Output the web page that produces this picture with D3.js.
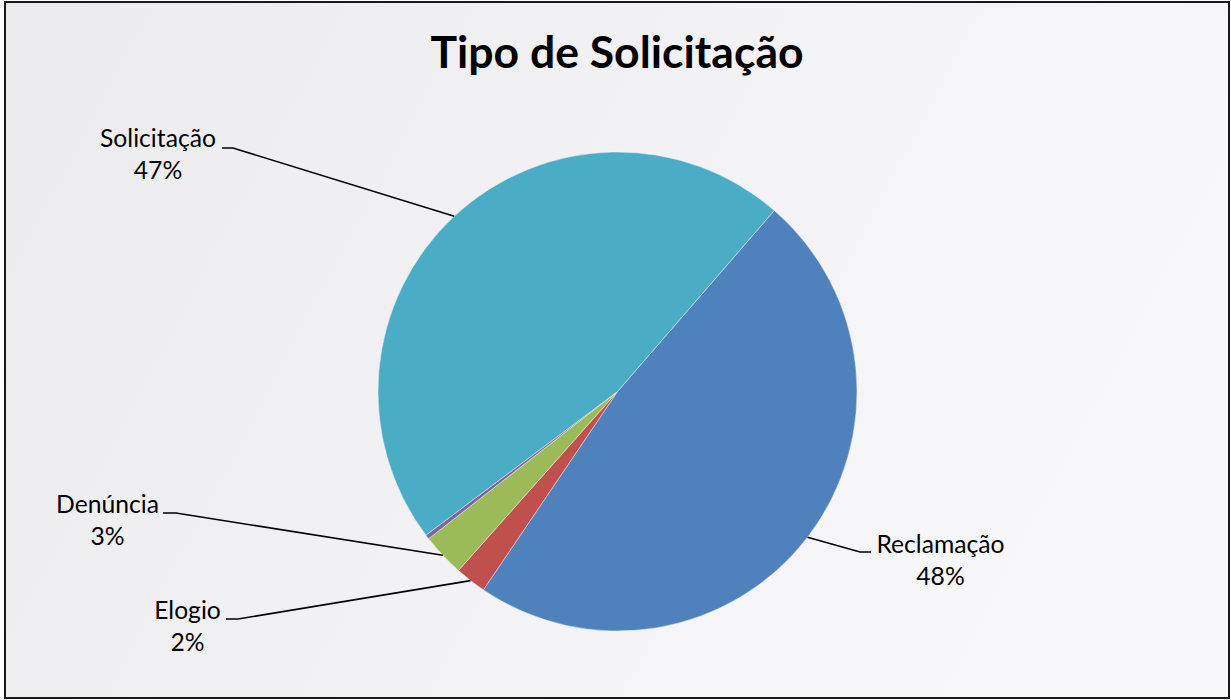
<!DOCTYPE html>
<html><head><meta charset="utf-8">
<script src="https://cdn.jsdelivr.net/npm/d3@7"></script>
<style>html,body{margin:0;padding:0;background:#fff}svg{display:block}</style>
</head><body>
<script>
// Data
const categories = ["Reclamação", "Elogio", "Denúncia", "Outros", "Solicitação"];
const values = [48.1, 2.1, 2.9, 0.3, 46.6];
const colors = ["#4f81bd", "#c0504d", "#9bbb59", "#8064a2", "#4bacc6"];
const showLabel = [true, true, true, false, true];
const title = "Tipo de Solicitação";

// Layout (not data)
const W = 1231, H = 700;
const cx = 617.5, cy = 391.5, R = 239.5;
const startDeg = 40.9;
// label block center x, first-line baseline y, elbow x, line-end x
const labelLayout = {
  "Reclamação": {tx: 940.5, ty: 553, ex: 860, ey: 552, hx: 871},
  "Elogio": {tx: 187.5, ty: 619, ex: 238, ey: 619, hx: 226},
  "Denúncia": {tx: 107.5, ty: 513, ex: 176, ey: 513, hx: 163},
  "Solicitação": {tx: 158, ty: 147, ex: 233, ey: 148, hx: 222}
};

const svg = d3.select("body").append("svg").attr("width", W).attr("height", H);
const defs = svg.append("defs");
const grad = defs.append("linearGradient").attr("id", "bg").attr("x1", "0").attr("y1", "0").attr("x2", "1").attr("y2", "0.3");
grad.append("stop").attr("offset", "0").attr("stop-color", "#ebebed");
grad.append("stop").attr("offset", "1").attr("stop-color", "#f8f8fa");

svg.append("rect").attr("x", 0).attr("y", 0).attr("width", W).attr("height", H).attr("fill", "#fff");
svg.append("rect").attr("x", 5).attr("y", 2).attr("width", 1224).attr("height", 696)
  .attr("fill", "url(#bg)").attr("stroke", "#1a1a1a").attr("stroke-width", 2);

svg.append("text").attr("x", 617).attr("y", 68).attr("text-anchor", "middle")
  .attr("font-family", "Lato, 'Open Sans', sans-serif").attr("font-weight", "bold")
  .attr("font-size", 44.5).attr("fill", "#000").text(title);

const data = categories.map((c, i) => ({name: c, value: values[i], color: colors[i], show: showLabel[i]}));
const start = startDeg * Math.PI / 180;
const pie = d3.pie().value(d => d.value).sort(null).startAngle(start).endAngle(start + 2 * Math.PI);
const arcs = pie(data);
const arc = d3.arc().innerRadius(0).outerRadius(R);

const g = svg.append("g").attr("transform", `translate(${cx},${cy})`);
g.selectAll("path").data(arcs).join("path")
  .attr("d", arc).attr("fill", d => d.data.color)
  .attr("stroke", "#ffffff").attr("stroke-width", 0.6).attr("stroke-opacity", 0.7);

const total = d3.sum(values);
const fmt = v => Math.round(v / total * 100) + "%";

arcs.filter(a => a.data.show).forEach(a => {
  const L = labelLayout[a.data.name];
  const mid = (a.startAngle + a.endAngle) / 2;
  const px = cx + R * Math.sin(mid), py = cy - R * Math.cos(mid);
  svg.append("polyline")
    .attr("points", `${px},${py} ${L.ex},${L.ey} ${L.hx},${L.ey}`)
    .attr("fill", "none").attr("stroke", "#000").attr("stroke-width", 1.6);
  const t = svg.append("text").attr("text-anchor", "middle")
    .attr("font-family", "Lato, 'Open Sans', sans-serif").attr("font-size", 24.7).attr("fill", "#000");
  t.append("tspan").attr("x", L.tx).attr("y", L.ty).text(a.data.name);
  t.append("tspan").attr("x", L.tx).attr("y", L.ty + 32).text(fmt(a.data.value));
});
</script>
</body></html>
